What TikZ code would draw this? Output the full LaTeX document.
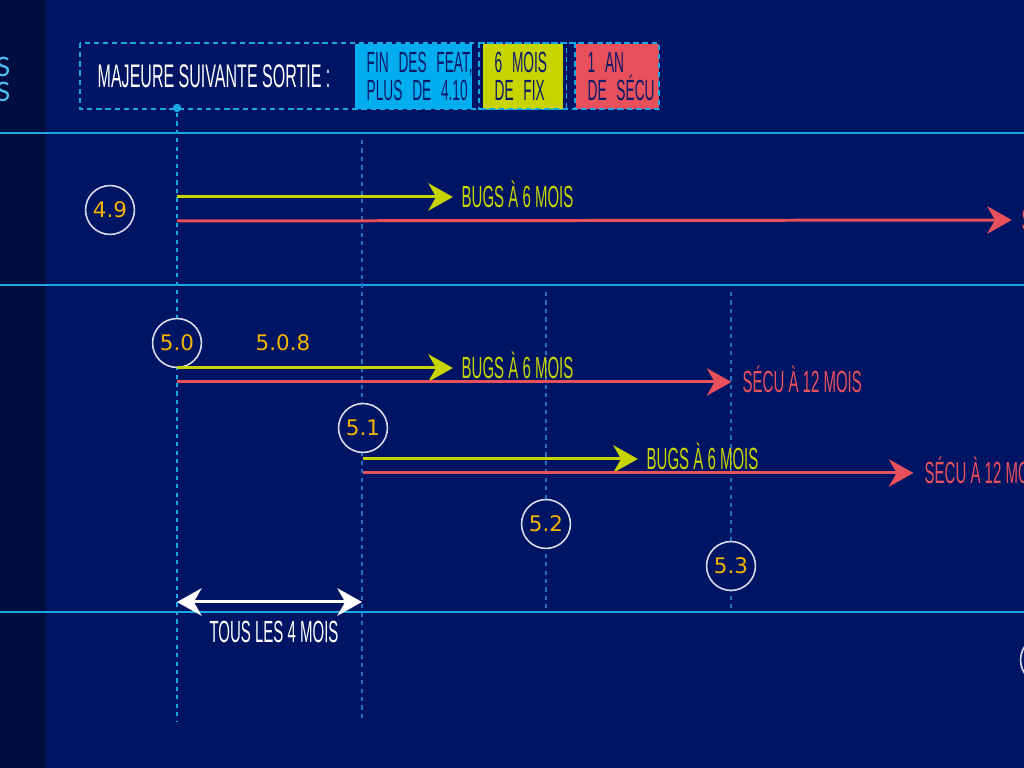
\documentclass[tikz,border=0pt]{standalone}
\usepackage{fontspec}
\usetikzlibrary{arrows.meta}
\newfontfamily\condf{Liberation Sans}[FakeStretch=0.49]
\newfontfamily\boxf{Liberation Sans}[FakeStretch=0.47,WordSpace=0.55]
\newfontfamily\numf{DejaVu Sans}
\newfontfamily\sidef{Lato}
\definecolor{bg}{HTML}{001464}
\definecolor{strip}{HTML}{000D3F}
\definecolor{cyanL}{HTML}{1AA8E2}
\definecolor{cyanB}{HTML}{00AEEF}
\definecolor{yel}{HTML}{C8D400}
\definecolor{redC}{HTML}{E8505B}
\definecolor{orn}{HTML}{F5B400}
\definecolor{dimL}{HTML}{1A72C0}
\definecolor{sky}{HTML}{4DBEF0}
\definecolor{navyT}{HTML}{0A1A6A}
\begin{document}
\begin{tikzpicture}[x=0.01cm,y=-0.01cm,
  ver/.style={circle,draw=white!85!bg,line width=0.45pt,fill=bg,minimum size=13.9pt,inner sep=0pt,
    text=orn,font=\numf\fontsize{6.1pt}{7pt}\selectfont,text height=4.45pt,text depth=0pt},
  numl/.style={inner sep=0pt,text=orn,font=\numf\fontsize{6.1pt}{7pt}\selectfont,text height=4.45pt,text depth=0pt},
  lbl/.style={inner sep=0pt,anchor=west,font=\condf\fontsize{8.7pt}{9pt}\selectfont,text height=6.2pt,text depth=0pt},
  legt/.style={inner sep=0pt,font=\condf\fontsize{9.3pt}{9pt}\selectfont,text=white},
  cbox/.style={anchor=north west,inner xsep=3.41pt,inner ysep=0pt,minimum height=18.5pt,align=left,
    text=navyT,font=\boxf\fontsize{8.3pt}{7.97pt}\selectfont},
  sideS/.style={inner sep=0pt,text=sky,font=\sidef\fontsize{7.6pt}{8pt}\selectfont},
  hline/.style={draw=cyanL,line width=0.72pt},
  vmain/.style={draw=cyanL,line width=0.37pt,dash pattern=on 1.2pt off 1.2pt},
  vdim/.style={draw=dimL,line width=0.37pt,dash pattern=on 1.2pt off 1.2pt},
  legdash/.style={draw=cyanL,line width=0.37pt,dash pattern=on 1.5pt off 1.1pt},
  yarr/.style={draw=yel,line width=0.85pt,-{Stealth[length=7pt,width=7.8pt,inset=2.2pt]}},
  rarr/.style={draw=redC,line width=0.85pt,-{Stealth[length=7pt,width=7.8pt,inset=2.2pt]}},
  warr/.style={draw=white,line width=0.85pt,{Stealth[length=7pt,width=7.8pt,inset=2.2pt]}-{Stealth[length=7pt,width=7.8pt,inset=2.2pt]}},
  dotn/.style={circle,fill=cyanL,inner sep=0pt,minimum size=2.4pt}
]
\clip (0,0) rectangle (1024,768);
\fill[bg] (0,0) rectangle (1024,768);
\fill[strip] (0,0) rectangle (46,768);

% cut-off side text
\node[sideS,anchor=base east] (s1) at (11,77) {S};
\node[sideS,anchor=base east] (s2) at (11,102) {S};

% horizontal separators
\foreach \y in {133,285,612} \draw[hline] (0,\y) -- (1024,\y);

% timeline guides
\node[dotn] (dot) at (177,108) {};
\coordinate (l0b) at (177,722);
\coordinate (l1t) at (362,140); \coordinate (l1b) at (362,722);
\coordinate (l2t) at (546,292); \coordinate (l2b) at (546,608);
\coordinate (l3t) at (731,292); \coordinate (l3b) at (731,608);
\draw[vmain] (dot) -- (l0b);
\draw[vdim] (l1t) -- (l1b);
\draw[vdim] (l2t) -- (l2b);
\draw[vdim] (l3t) -- (l3b);

% legend
\node[legt,anchor=base west] (leg) at (97,88) {MAJEURE SUIVANTE SORTIE :};
\node[cbox,fill=cyanB,text width=26.46pt] (bf) at (354,43) {\mbox{FIN DES FEAT,}\\\mbox{PLUS DE 4.10}};
\node[cbox,fill=yel,text width=15.93pt] (by) at (482,43) {\mbox{6 MOIS}\\\mbox{DE FIX}};
\node[cbox,fill=redC,text width=16.79pt] (br) at (575,43) {\mbox{1 AN}\\\mbox{DE SÉCU}};
\draw[legdash] ([xshift=-0.85pt]by.north west) rectangle ([xshift=0.85pt]by.south east);
\draw[legdash] (br.north west) rectangle (br.south east);
\draw[legdash] (80,43) rectangle (659,109);

% version circles
\node[ver] (v49) at (110,210) {4.9};
\node[ver] (v50) at (177,343) {5.0};
\node[ver] (v51) at (363,428) {5.1};
\node[ver] (v52) at (546,524) {5.2};
\node[ver] (v53) at (731,566) {5.3};
\node[ver] (v54) at (1045,660) {};
\node[numl] (p508) at (283,343) {5.0.8};

% labels
\node[lbl,text=yel]  (b49) at (461,197) {BUGS À 6 MOIS};
\node[lbl,text=redC] (c49) at (1021,220) {SÉCU À 12 MOIS};
\node[lbl,text=yel]  (b50) at (461,368) {BUGS À 6 MOIS};
\node[lbl,text=redC] (c50) at (742,382) {SÉCU À 12 MOIS};
\node[lbl,text=yel]  (b51) at (646,459) {BUGS À 6 MOIS};
\node[lbl,text=redC] (c51) at (924,473) {SÉCU À 12 MOIS};
\node[lbl,text=white,anchor=center] (t4) at (274,632) {TOUS LES 4 MOIS};

% arrow starts
\coordinate (a49y) at (177,197); \coordinate (a49r) at (177,221);
\coordinate (a50y) at (177,368); \coordinate (a50r) at (177,382);
\coordinate (a51y) at (363,459); \coordinate (a51r) at (363,473);
\coordinate (wl) at (177,602); \coordinate (wr) at (362,602);

\draw[yarr] (a49y) -- ([xshift=-2.3pt]b49.west);
\draw[rarr] (a49r) -- ([xshift=-2.6pt]c49.west);
\draw[yarr] (a50y) -- ([xshift=-2.3pt]b50.west);
\draw[rarr] (a50r) -- ([xshift=-3pt]c50.west);
\draw[yarr] (a51y) -- ([xshift=-2.3pt]b51.west);
\draw[rarr] (a51r) -- ([xshift=-3pt]c51.west);
\draw[warr] (wl) -- (wr);
\end{tikzpicture}
\end{document}
